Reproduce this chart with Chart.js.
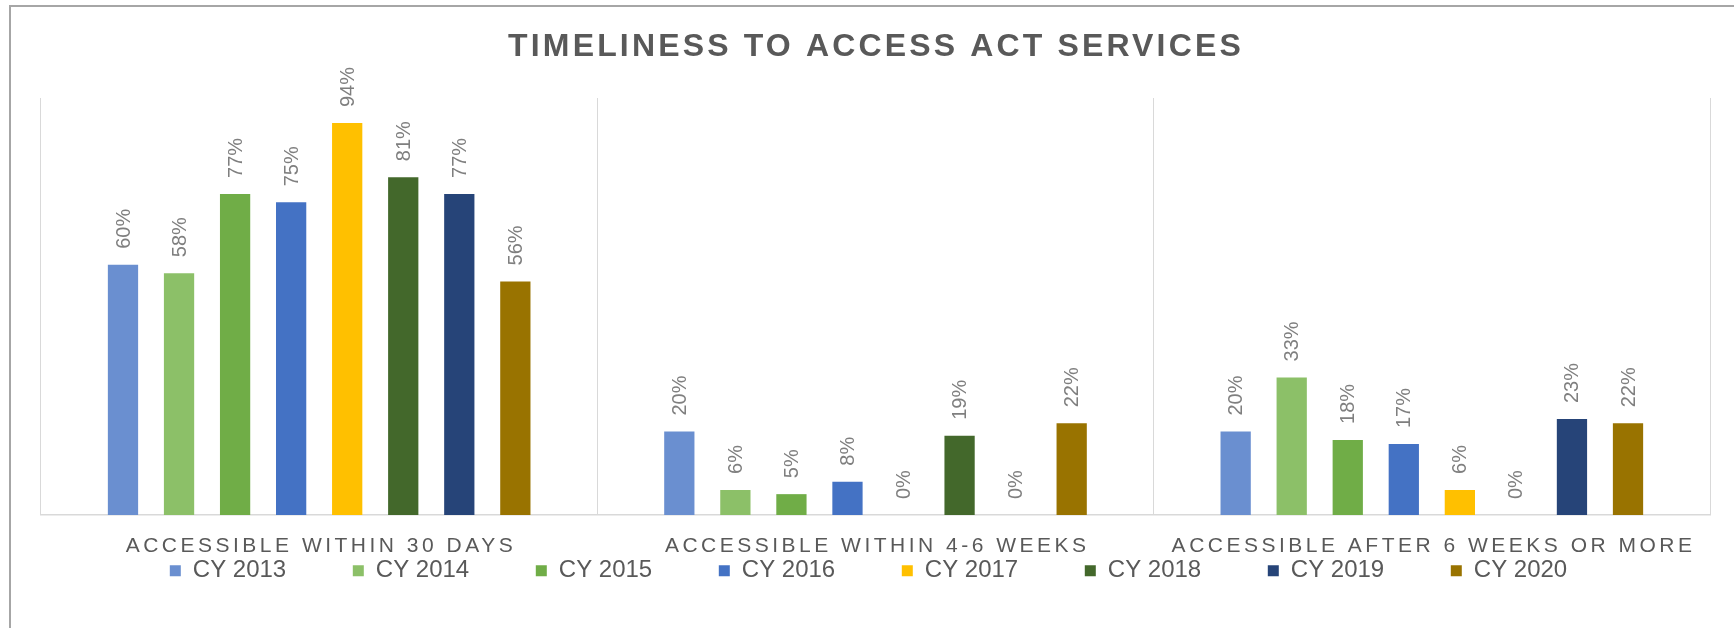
<!DOCTYPE html>
<html>
<head>
<meta charset="utf-8">
<script src="https://cdn.jsdelivr.net/npm/chart.js@4"></script>
<style>
html,body{margin:0;padding:0;background:#ffffff;}
#wrap{width:1734px;height:628px;position:relative;}
</style>
</head>
<body>
<div id="wrap"><canvas id="c" width="1734" height="628"></canvas></div>
<script>
// ---- data ----
const chartTitle = 'TIMELINESS TO ACCESS ACT SERVICES';
const categories = ['ACCESSIBLE WITHIN 30 DAYS', 'ACCESSIBLE WITHIN 4-6 WEEKS', 'ACCESSIBLE AFTER 6 WEEKS OR MORE'];
const seriesNames = ['CY 2013', 'CY 2014', 'CY 2015', 'CY 2016', 'CY 2017', 'CY 2018', 'CY 2019', 'CY 2020'];
const cy2013 = [60, 20, 20];
const cy2014 = [58, 6, 33];
const cy2015 = [77, 5, 18];
const cy2016 = [75, 8, 17];
const cy2017 = [94, 0, 6];
const cy2018 = [81, 19, 0];
const cy2019 = [77, 0, 23];
const cy2020 = [56, 22, 22];
const seriesValues = [cy2013, cy2014, cy2015, cy2016, cy2017, cy2018, cy2019, cy2020];
const seriesColors = ['#6A8FD0', '#8CC068', '#70AD47', '#4472C4', '#FFC000', '#43682B', '#264478', '#997300'];

// ---- styling ----
const FONT = "'Liberation Sans', Arial, sans-serif";
const TEXT_GRAY = '#595959';
const LEGEND_FONT = 24;
const LEGEND_PAD = 66.6;
const LEGEND_ROW_OFFSET = 43.7;
const LEGEND_X_SHIFT = -7;

Chart.defaults.font.family = FONT;

const framePlugin = {
  id: 'frame',
  beforeDraw(chart) {
    const ctx = chart.ctx;
    ctx.save();
    ctx.fillStyle = '#ffffff';
    ctx.fillRect(0, 0, chart.width, chart.height);
    ctx.fillStyle = '#a6a6a6';
    ctx.fillRect(9, 5, chart.width - 9, 2);
    ctx.fillRect(9, 5, 2, chart.height - 5);
    ctx.restore();
  }
};

const legendShiftPlugin = {
  id: 'legendShift',
  afterLayout(chart) {
    const lg = chart.legend;
    if (!lg) return;
    const target = chart.chartArea.bottom + LEGEND_ROW_OFFSET - LEGEND_PAD;
    const dy = lg.top - target;
    lg.top -= dy;
    lg.bottom -= dy;
    lg.left += LEGEND_X_SHIFT;
    lg.right += LEGEND_X_SHIFT;
  }
};

const textPlugin = {
  id: 'texts',
  afterDatasetsDraw(chart) {
    const ctx = chart.ctx;
    ctx.save();
    ctx.fillStyle = '#7f7f7f';
    ctx.font = '20px ' + FONT;
    ctx.textAlign = 'left';
    ctx.textBaseline = 'middle';
    chart.data.datasets.forEach((ds, di) => {
      const meta = chart.getDatasetMeta(di);
      meta.data.forEach((el, i) => {
        const v = ds.data[i];
        ctx.save();
        ctx.translate(el.x, el.y - 16);
        ctx.rotate(-Math.PI / 2);
        ctx.fillText(v + '%', 0, 1);
        ctx.restore();
      });
    });
    ctx.restore();
  },
  afterDraw(chart) {
    const ctx = chart.ctx;
    const area = chart.chartArea;
    const xs = chart.scales.x;
    ctx.save();
    // title
    ctx.fillStyle = TEXT_GRAY;
    ctx.textAlign = 'center';
    ctx.textBaseline = 'alphabetic';
    ctx.font = 'bold 32px ' + FONT;
    try { ctx.letterSpacing = '3.15px'; } catch (e) {}
    ctx.fillText(chartTitle, (area.left + area.right) / 2 + 0.5, 56);
    // category labels
    ctx.font = '21px ' + FONT;
    try { ctx.letterSpacing = '3.5px'; } catch (e) {}
    categories.forEach((c, i) => {
      ctx.fillText(c, xs.getPixelForValue(i) + 1.75, area.bottom + 37);
    });
    try { ctx.letterSpacing = '0px'; } catch (e) {}
    ctx.restore();
  }
};

new Chart(document.getElementById('c'), {
  type: 'bar',
  data: {
    labels: categories,
    datasets: seriesNames.map((name, i) => ({
      label: name,
      data: seriesValues[i],
      backgroundColor: seriesColors[i],
      borderWidth: 0,
      categoryPercentage: 0.806,
      barPercentage: 0.54
    }))
  },
  options: {
    responsive: false,
    animation: false,
    layout: { padding: { top: 98, left: 41, right: 24, bottom: 12.4 } },
    plugins: {
      title: { display: false },
      tooltip: { enabled: false },
      legend: {
        position: 'bottom',
        labels: {
          font: { size: LEGEND_FONT },
          color: TEXT_GRAY,
          boxWidth: 11,
          boxHeight: 11,
          padding: LEGEND_PAD
        }
      }
    },
    scales: {
      x: {
        grid: { offset: true, color: '#d9d9d9', lineWidth: 1, drawTicks: false },
        border: { display: true, color: '#d9d9d9', width: 1.5 },
        ticks: { display: false },
        afterFit(s) { s.height = 0; }
      },
      y: { display: false, min: 0, max: 100 }
    }
  },
  plugins: [framePlugin, legendShiftPlugin, textPlugin]
});
</script>
</body>
</html>
